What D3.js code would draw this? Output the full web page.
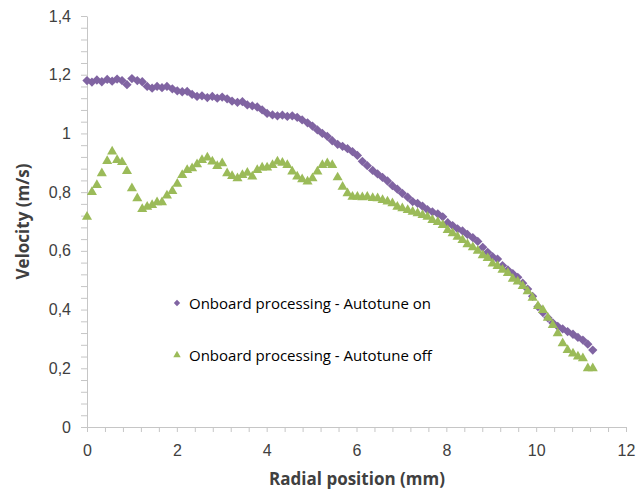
<!DOCTYPE html>
<html>
<head>
<meta charset="utf-8">
<script src="https://cdn.jsdelivr.net/npm/d3@7"></script>
<style>
  body { margin: 0; background: #fff; }
  svg { font-family: "Open Sans", "Liberation Sans", sans-serif; }
</style>
</head>
<body>
<svg width="644" height="489"></svg>
<script>
// radial positions (mm), shared by both series
var positions = [0, 0.11, 0.22, 0.33, 0.45, 0.56, 0.67, 0.78, 0.89, 1.00,
    1.12, 1.23, 1.34, 1.45, 1.56, 1.67, 1.78, 1.90, 2.01, 2.12,
    2.23, 2.34, 2.45, 2.56, 2.68, 2.79, 2.90, 3.01, 3.12, 3.23,
    3.35, 3.46, 3.57, 3.68, 3.79, 3.90, 4.01, 4.13, 4.24, 4.35,
    4.46, 4.57, 4.68, 4.79, 4.91, 5.02, 5.13, 5.24, 5.35, 5.46,
    5.58, 5.69, 5.80, 5.91, 6.02, 6.13, 6.24, 6.36, 6.47, 6.58,
    6.69, 6.80, 6.91, 7.02, 7.14, 7.25, 7.36, 7.47, 7.58, 7.69,
    7.81, 7.92, 8.03, 8.14, 8.25, 8.36, 8.47, 8.59, 8.70, 8.81,
    8.92, 9.03, 9.14, 9.25, 9.37, 9.48, 9.59, 9.70, 9.81, 9.92,
    10.04, 10.15, 10.26, 10.37, 10.48, 10.59, 10.70, 10.82, 10.93, 11.04,
    11.15, 11.26];

// velocity (m/s) - autotune on
var autotuneOn = [1.18, 1.175, 1.182, 1.176, 1.184, 1.178, 1.185, 1.18, 1.166, 1.187,
    1.18, 1.176, 1.16, 1.154, 1.16, 1.156, 1.16, 1.152, 1.145, 1.142,
    1.143, 1.133, 1.126, 1.128, 1.122, 1.126, 1.12, 1.124, 1.118, 1.11,
    1.106, 1.108, 1.097, 1.094, 1.09, 1.08, 1.068, 1.063, 1.06, 1.062,
    1.058, 1.06, 1.055, 1.046, 1.036, 1.025, 1.012, 1.0, 0.99, 0.975,
    0.963, 0.956, 0.948, 0.938, 0.925, 0.905, 0.89, 0.874, 0.862, 0.85,
    0.838, 0.822, 0.81, 0.796, 0.783, 0.768, 0.762, 0.752, 0.74, 0.733,
    0.726, 0.716, 0.696, 0.686, 0.675, 0.668, 0.656, 0.645, 0.632, 0.612,
    0.595, 0.58, 0.572, 0.55, 0.535, 0.522, 0.51, 0.49, 0.47, 0.445,
    0.41, 0.39, 0.372, 0.355, 0.343, 0.334, 0.325, 0.316, 0.305, 0.296,
    0.282, 0.262];

// velocity (m/s) - autotune off
var autotuneOff = [0.716, 0.80, 0.824, 0.864, 0.906, 0.938, 0.909, 0.902, 0.872, 0.813,
    0.779, 0.742, 0.75, 0.756, 0.765, 0.765, 0.788, 0.804, 0.828, 0.858,
    0.875, 0.881, 0.895, 0.909, 0.918, 0.904, 0.889, 0.898, 0.864, 0.855,
    0.847, 0.858, 0.866, 0.853, 0.875, 0.884, 0.884, 0.892, 0.904, 0.90,
    0.892, 0.87, 0.853, 0.844, 0.836, 0.847, 0.87, 0.892, 0.898, 0.892,
    0.85, 0.818, 0.796, 0.784, 0.784, 0.782, 0.784, 0.78, 0.779, 0.773,
    0.768, 0.762, 0.75, 0.745, 0.739, 0.733, 0.728, 0.722, 0.716, 0.705,
    0.698, 0.688, 0.671, 0.66, 0.648, 0.637, 0.622, 0.612, 0.6, 0.585,
    0.575, 0.557, 0.548, 0.535, 0.524, 0.505, 0.495, 0.48, 0.462, 0.44,
    0.412, 0.398, 0.372, 0.347, 0.319, 0.285, 0.262, 0.25, 0.24, 0.234,
    0.2, 0.2];

var seriesNames = ["Onboard processing - Autotune on", "Onboard processing - Autotune off"];
var xTicks = [0, 2, 4, 6, 8, 10, 12];
var yTicks = [0, 0.2, 0.4, 0.6, 0.8, 1, 1.2, 1.4];

var svg = d3.select("svg"),
    plotLeft = 87, plotRight = 626, plotTop = 16, plotBottom = 427;

var x = d3.scaleLinear().domain([0, 12]).range([plotLeft, plotRight]);
var y = d3.scaleLinear().domain([0, 1.4]).range([plotBottom, plotTop]);

var axisColor = "#c6c6c6",
    textColor = "#404040";

// comma decimal separator
var fmt = function(d) { return String(+d.toFixed(1)).replace(".", ","); };

// minor ticks
var yMinor = d3.range(0, 1.4001, 0.04);
var xMinor = d3.range(0, 12.001, 0.4);

var yAxis = svg.append("g")
    .attr("transform", "translate(" + plotLeft + ",0)")
    .call(d3.axisLeft(y).tickValues(yMinor).tickSize(6).tickSizeOuter(0).tickFormat(""));
yAxis.select(".domain").attr("stroke", axisColor);
yAxis.selectAll(".tick line").attr("stroke", axisColor);

var yLabels = svg.append("g")
    .attr("transform", "translate(" + plotLeft + ",0)")
    .call(d3.axisLeft(y).tickValues(yTicks).tickSize(0).tickPadding(16).tickFormat(fmt));
yLabels.select(".domain").remove();
yLabels.selectAll("text")
    .attr("fill", textColor)
    .style("font-size", "16px");

var xAxis = svg.append("g")
    .attr("transform", "translate(0," + plotBottom + ")")
    .call(d3.axisBottom(x).tickValues(xMinor).tickSize(5).tickSizeOuter(0).tickFormat(""));
xAxis.select(".domain").attr("stroke", axisColor);
xAxis.selectAll(".tick line").attr("stroke", axisColor);

var xLabels = svg.append("g")
    .attr("transform", "translate(0," + plotBottom + ")")
    .call(d3.axisBottom(x).tickValues(xTicks).tickSize(0).tickPadding(18).tickFormat(fmt));
xLabels.select(".domain").remove();
xLabels.selectAll("text")
    .attr("fill", textColor)
    .style("font-size", "16px");

// axis titles
svg.append("text")
    .attr("transform", "translate(29," + ((plotTop + plotBottom) / 2) + ") rotate(-90)")
    .attr("text-anchor", "middle")
    .attr("fill", textColor)
    .style("font-size", "17px")
    .style("font-weight", "bold")
    .text("Velocity (m/s)");

svg.append("text")
    .attr("x", 357)
    .attr("y", 485)
    .attr("text-anchor", "middle")
    .attr("fill", textColor)
    .style("font-size", "17px")
    .style("font-weight", "bold")
    .text("Radial position (mm)");

// data
var colors = ["#8064a2", "#9bbb59"];
var diamond = d3.symbol().type(d3.symbolDiamond2).size(55);
var triangle = d3.symbol().type(d3.symbolTriangle).size(44);

var onData = positions.map(function(p, i) { return {x: p, y: autotuneOn[i]}; });
var offData = positions.map(function(p, i) { return {x: p, y: autotuneOff[i]}; });

svg.append("g").selectAll("path")
    .data(onData)
    .enter().append("path")
    .attr("d", diamond)
    .attr("transform", function(d) { return "translate(" + x(d.x) + "," + y(d.y) + ")"; })
    .attr("fill", colors[0]);

svg.append("g").selectAll("path")
    .data(offData)
    .enter().append("path")
    .attr("d", triangle)
    .attr("transform", function(d) { return "translate(" + x(d.x) + "," + y(d.y) + ")"; })
    .attr("fill", colors[1]);

// legend
var legend = svg.selectAll(".legend")
    .data(seriesNames)
    .enter().append("g")
    .attr("class", "legend")
    .attr("transform", function(d, i) { return "translate(177," + (303 + i * 52) + ")"; });

legend.append("path")
    .attr("d", function(d, i) {
        return i == 0 ? d3.symbol().type(d3.symbolDiamond2).size(26)()
                      : d3.symbol().type(d3.symbolTriangle).size(24)();
    })
    .attr("fill", function(d, i) { return colors[i]; });

legend.append("text")
    .attr("x", 12)
    .attr("y", 6)
    .attr("fill", "#000")
    .style("font-size", "15px")
    .text(function(d) { return d; });
</script>
</body>
</html>
